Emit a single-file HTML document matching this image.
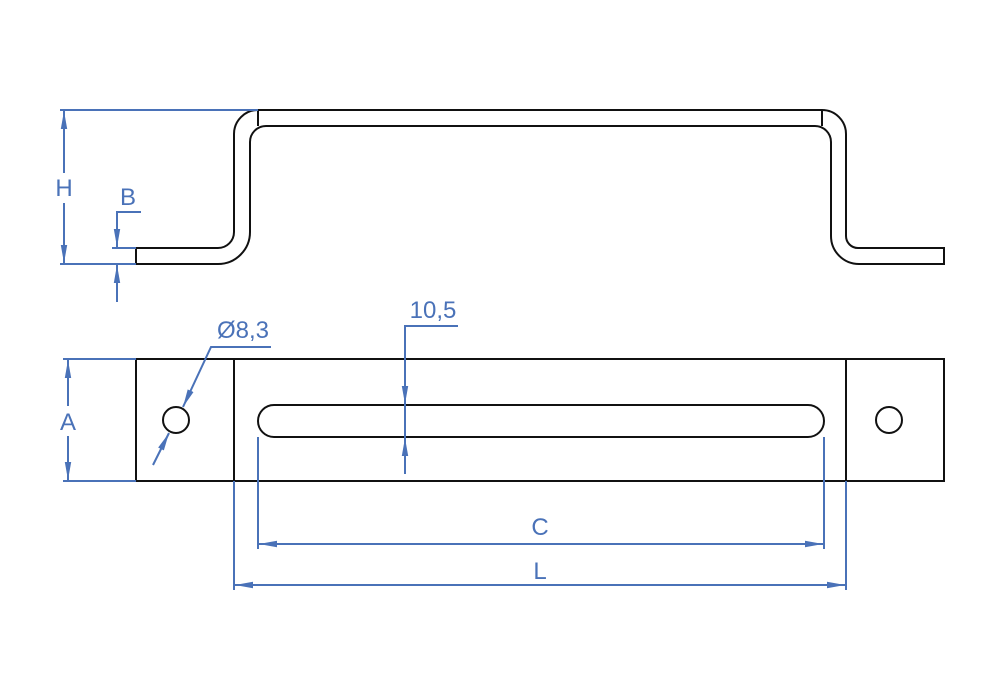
<!DOCTYPE html>
<html><head><meta charset="utf-8"><style>
html,body{margin:0;padding:0;background:#fff;}
svg{display:block;}
text{font-family:"Liberation Sans","DejaVu Sans",sans-serif;fill:#4a72b8;font-size:24px;}
</style></head><body>
<svg width="1000" height="700" viewBox="0 0 1000 700" xmlns="http://www.w3.org/2000/svg">
<defs>
<marker id="a" viewBox="0 0 18 8" refX="18" refY="4" markerWidth="18" markerHeight="8" markerUnits="userSpaceOnUse" orient="auto-start-reverse">
<path d="M0,0.8 L18,4 L0,7.2 Z" fill="#4a72b8"/></marker>
</defs>
<g fill="none" stroke="#111" stroke-width="2">
<path d="M136,248 L218,248 A16,16 0 0 0 234,232 L234,134 A24,24 0 0 1 258,110 L822,110 A24,24 0 0 1 846,134 L846,236 A12,12 0 0 0 858,248 L944,248 L944,264 L859,264 A28,28 0 0 1 831,236 L831,142 A16,16 0 0 0 815,126 L266,126 A16,16 0 0 0 250,142 L250,232 A32,32 0 0 1 218,264 L136,264 Z"/>
<line x1="258" y1="110" x2="258" y2="126"/>
<line x1="822" y1="110" x2="822" y2="126"/>
<rect x="136" y="359" width="808" height="122"/>
<line x1="234" y1="359" x2="234" y2="481"/>
<line x1="846" y1="359" x2="846" y2="481"/>
<circle cx="176" cy="420" r="13"/>
<circle cx="889" cy="420" r="13"/>
<rect x="258" y="405" width="566" height="32" rx="16" ry="16"/>
</g>
<g fill="none" stroke="#4a72b8" stroke-width="2">
<line x1="60" y1="110" x2="258" y2="110"/>
<line x1="60" y1="264" x2="136" y2="264"/>
<line x1="64" y1="173" x2="64" y2="111" marker-end="url(#a)"/>
<line x1="64" y1="203" x2="64" y2="263" marker-end="url(#a)"/>
<line x1="112" y1="248" x2="136" y2="248"/>
<polyline points="141,212 117,212 117,247" marker-end="url(#a)"/>
<line x1="117" y1="302" x2="117" y2="265" marker-end="url(#a)"/>
<line x1="63" y1="359" x2="136" y2="359"/>
<line x1="63" y1="481" x2="136" y2="481"/>
<line x1="68" y1="406" x2="68" y2="360" marker-end="url(#a)"/>
<line x1="68" y1="436" x2="68" y2="480" marker-end="url(#a)"/>
<polyline points="271,347 211,347 183,407" marker-end="url(#a)"/>
<line x1="153" y1="465" x2="169" y2="433" marker-end="url(#a)"/>
<polyline points="458,326 405,326 405,404" marker-end="url(#a)"/>
<line x1="405" y1="474" x2="405" y2="438" marker-end="url(#a)"/>
<line x1="405" y1="403" x2="405" y2="439"/>
<line x1="258" y1="437" x2="258" y2="549"/>
<line x1="824" y1="437" x2="824" y2="549"/>
<line x1="259" y1="544" x2="823" y2="544" marker-start="url(#a)" marker-end="url(#a)"/>
<line x1="234" y1="481" x2="234" y2="590"/>
<line x1="846" y1="481" x2="846" y2="590"/>
<line x1="235" y1="585" x2="845" y2="585" marker-start="url(#a)" marker-end="url(#a)"/>
</g>
<text x="64" y="196" text-anchor="middle">H</text>
<text x="128" y="205" text-anchor="middle">B</text>
<text x="68" y="430" text-anchor="middle">A</text>
<text x="243" y="338" text-anchor="middle">Ø8,3</text>
<text x="433" y="318" text-anchor="middle">10,5</text>
<text x="540" y="535" text-anchor="middle">C</text>
<text x="540" y="579" text-anchor="middle">L</text>
</svg>
</body></html>
